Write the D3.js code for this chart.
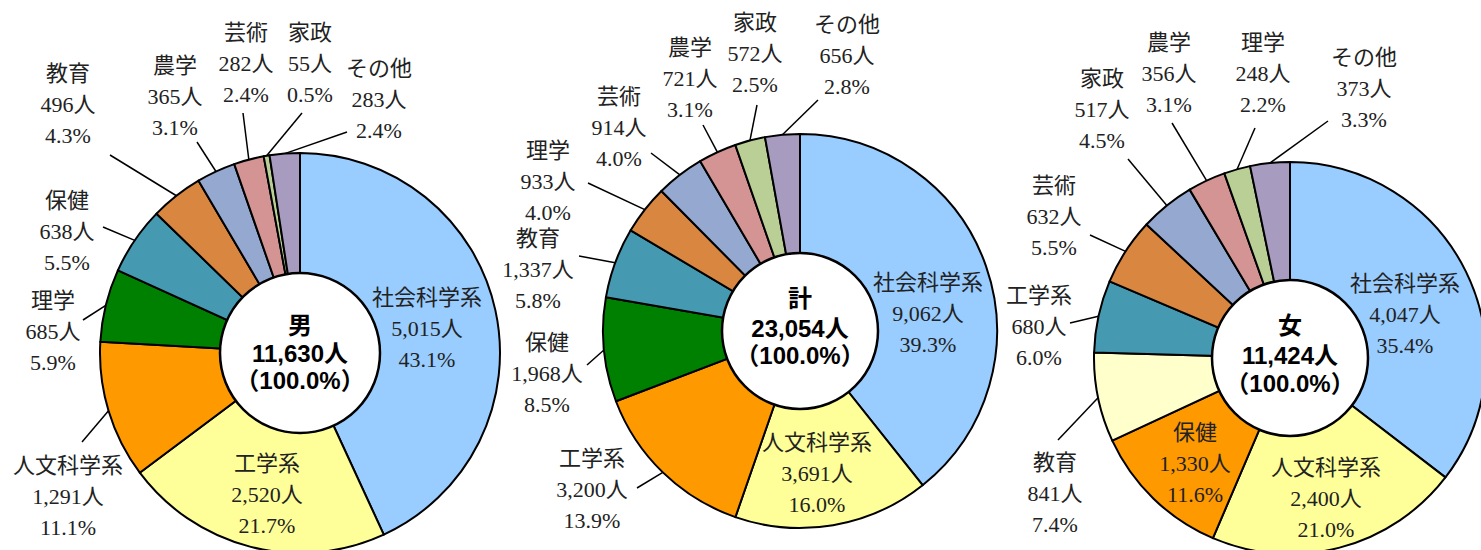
<!DOCTYPE html>
<html><head><meta charset="utf-8">
<script src="https://cdn.jsdelivr.net/npm/d3@7"></script>
<style>
html,body{margin:0;padding:0;background:#fff;}
svg{display:block;}
</style></head>
<body>
<svg id="chart" width="1481" height="550"></svg>
<script>
// ---- data ----
const titles = ["男", "計", "女"];
const totals = [11630, 23054, 11424];

const categoriesMale = ["社会科学系","工学系","人文科学系","理学","保健","教育","農学","芸術","家政","その他"];
const valuesMale     = [5015, 2520, 1291, 685, 638, 496, 365, 282, 55, 283];

const categoriesTotal = ["社会科学系","人文科学系","工学系","保健","教育","理学","芸術","農学","家政","その他"];
const valuesTotal     = [9062, 3691, 3200, 1968, 1337, 933, 914, 721, 572, 656];

const categoriesFemale = ["社会科学系","人文科学系","保健","教育","工学系","芸術","家政","農学","理学","その他"];
const valuesFemale     = [4047, 2400, 1330, 841, 680, 632, 517, 356, 248, 373];

// ---- styles ----
const paletteA = ["#99CCFF","#FFFF99","#FF9900","#008000","#4599B0","#D98740","#95A9D0","#D49494","#B9CF96","#A89BC0"];
const paletteB = ["#99CCFF","#FFFF99","#FF9900","#FFFFCC","#4599B0","#D98740","#95A9D0","#D49494","#B9CF96","#A89BC0"];

// ---- layout ----
const centers = [[300,353],[800,331],[1290,358]];
const outerR = [200,197,196];
const innerR = [80,78,78];
const centerTextOffsets = [[-28,0,27],[-33,-3,24],[-33,-3,25]];
// label first-line centre [x,y], and leader end point near label (null = inside label)
const labelPosMale = [[427,297],[267,463],[68,465],[53,300],[67,200],[68,73],[175,65],[246,32],[310,32],[379,68]];
const leaderMale   = [null,null,[82,442],[83,320],[103,227],[110,155],[197,142],[243,113],[302,113],[347,132]];
const labelPosTotal = [[928,282],[817,442],[592,458],[547,342],[538,238],[548,150],[619,96],[690,47],[755,22],[847,24]];
const leaderTotal   = [null,null,[637,488],[587,365],[579,256],[588,183],[651,153],[703,125],[757,105],[818,100]];
const labelPosFemale = [[1405,283],[1326,467],[1195,432],[1055,462],[1039,295],[1054,185],[1102,78],[1169,42],[1263,42],[1364,57]];
const leaderFemale   = [null,null,null,[1058,440],[1070,323],[1090,235],[1128,159],[1172,123],[1255,128],[1328,121]];

const charts = [
  {cats: categoriesMale, vals: valuesMale, pal: paletteA, lab: labelPosMale, lead: leaderMale},
  {cats: categoriesTotal, vals: valuesTotal, pal: paletteA, lab: labelPosTotal, lead: leaderTotal},
  {cats: categoriesFemale, vals: valuesFemale, pal: paletteB, lab: labelPosFemale, lead: leaderFemale}
];

const svg = d3.select("#chart");
const fmt = d3.format(",");
const lineH = 31;
const labelFont = "'Liberation Serif','Noto Sans CJK JP',serif";
const centerFont = "'Liberation Sans','Noto Sans CJK JP',sans-serif";

charts.forEach((c, ci) => {
  const [cx, cy] = centers[ci];
  const R = outerR[ci], r = innerR[ci];
  const total = d3.sum(c.vals);
  const pie = d3.pie().sort(null).value(d => d);
  const arcs = pie(c.vals);
  const arc = d3.arc().innerRadius(0).outerRadius(R);
  const g = svg.append("g").attr("transform", `translate(${cx},${cy})`);

  // leader lines (under slices)
  const lg = svg.append("g");
  arcs.forEach((a, i) => {
    const L = c.lead[i];
    if (!L) return;
    const mid = (a.startAngle + a.endAngle) / 2;
    const x1 = cx + R * Math.sin(mid), y1 = cy - R * Math.cos(mid);
    lg.append("line").attr("x1", L[0]).attr("y1", L[1]).attr("x2", x1).attr("y2", y1)
      .attr("stroke", "#000").attr("stroke-width", 1.5);
  });

  g.selectAll("path.slice").data(arcs).join("path")
    .attr("class", "slice")
    .attr("d", arc)
    .attr("fill", (d, i) => c.pal[i])
    .attr("stroke", "#000")
    .attr("stroke-width", 2)
    .attr("stroke-linejoin", "round");

  g.append("circle").attr("r", r).attr("fill", "#fff").attr("stroke", "#000").attr("stroke-width", 2.5);

  // centre text
  const ct = [titles[ci], fmt(totals[ci]) + "人", "（100.0%）"];
  const off = centerTextOffsets[ci];
  ct.forEach((t, k) => {
    g.append("text").attr("x", 0).attr("y", off[k])
      .attr("text-anchor", "middle").attr("dominant-baseline", "central")
      .attr("font-family", centerFont).attr("font-weight", "bold")
      .attr("font-size", 24).attr("fill", "#000").text(t);
  });

  // labels
  arcs.forEach((a, i) => {
    const [lx, ly] = c.lab[i];
    const pct = (c.vals[i] / total * 100).toFixed(1) + "%";
    const lines = [c.cats[i], fmt(c.vals[i]) + "人", pct];
    lines.forEach((t, k) => {
      svg.append("text").attr("x", lx).attr("y", ly + k * lineH)
        .attr("text-anchor", "middle").attr("dominant-baseline", "central")
        .attr("font-family", labelFont).attr("font-size", 22).attr("fill", "#222")
        .text(t);
    });
  });
});
</script>
</body></html>
